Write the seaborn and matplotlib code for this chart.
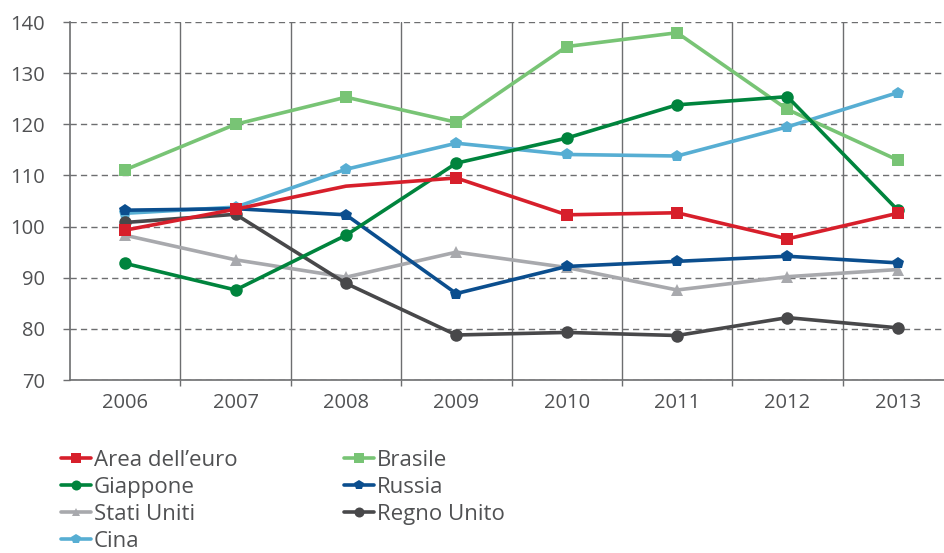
import matplotlib
matplotlib.use("Agg")
import matplotlib.pyplot as plt
import seaborn as sns
import pandas as pd
from matplotlib.ticker import MultipleLocator, FixedLocator

years = [2006, 2007, 2008, 2009, 2010, 2011, 2012, 2013]
area_euro = [99.3, 103.4, 107.9, 109.5, 102.3, 102.7, 97.6, 102.6]
brasile = [111.1, 120.0, 125.3, 120.4, 135.2, 137.9, 122.9, 113.0]
giappone = [92.8, 87.6, 98.3, 112.4, 117.3, 123.8, 125.4, 103.2]
russia = [103.2, 103.5, 102.3, 86.9, 92.2, 93.2, 94.2, 92.9]
stati_uniti = [98.3, 93.5, 90.1, 95.0, 92.0, 87.6, 90.2, 91.6]
regno_unito = [100.8, 102.4, 88.9, 78.8, 79.3, 78.7, 82.2, 80.2]
cina = [102.6, 103.8, 111.2, 116.3, 114.1, 113.8, 119.5, 126.2]

series = {
    "Area dell\u2019euro": area_euro,
    "Brasile": brasile,
    "Giappone": giappone,
    "Russia": russia,
    "Stati Uniti": stati_uniti,
    "Regno Unito": regno_unito,
    "Cina": cina,
}
colors = {
    "Area dell\u2019euro": "#d71f2b",
    "Brasile": "#78c475",
    "Giappone": "#00843d",
    "Russia": "#0b4e8e",
    "Stati Uniti": "#a8a9ad",
    "Regno Unito": "#48484a",
    "Cina": "#57aed3",
}
markers = {
    "Area dell\u2019euro": "s",
    "Brasile": "s",
    "Giappone": "o",
    "Russia": "p",
    "Stati Uniti": "^",
    "Regno Unito": "o",
    "Cina": "p",
}

sns.set_theme(style="white")
plt.rcParams["font.family"] = ["Open Sans", "DejaVu Sans"]

fig = plt.figure(figsize=(9.44, 5.53), dpi=100)
ax = fig.add_axes([70 / 944, 173 / 553, 883 / 944, 358 / 553])

draw_order = ["Cina", "Stati Uniti", "Regno Unito", "Russia", "Brasile", "Giappone", "Area dell\u2019euro"]
handles = {}
for z, name in enumerate(draw_order):
    df = pd.DataFrame({"anno": years, "valore": series[name]})
    kw = {}
    if name == "Area dell\u2019euro":
        kw["markevery"] = [0, 1, 3, 4, 5, 6, 7]
    sns.lineplot(data=df, x="anno", y="valore", ax=ax, color=colors[name],
                 marker=markers[name], markersize=9 if markers[name] != "^" else 8,
                 markeredgewidth=0, linewidth=2.6, zorder=3 + z, label=name, **kw)
    handles[name] = ax.lines[-1]

ax.set_xlim(2005.5, 2013.5)
ax.set_ylim(70, 140)
ax.yaxis.set_major_locator(MultipleLocator(10))
ax.xaxis.set_major_locator(FixedLocator(years))
ax.xaxis.set_minor_locator(FixedLocator([y + 0.5 for y in years[:-1]]))
ax.set_xlabel("")
ax.set_ylabel("")

ax.grid(False)
ax.yaxis.grid(True, which="major", color="#6d6e70", linestyle=(0, (4.5, 3)), linewidth=1.0)
ax.xaxis.grid(True, which="minor", color="#6d6e70", linestyle="-", linewidth=1.0)
for s in ["top", "right"]:
    ax.spines[s].set_visible(False)
for s in ["left", "bottom"]:
    ax.spines[s].set_color("#6d6e70")
    ax.spines[s].set_linewidth(1.2)

ax.tick_params(axis="y", which="major", left=True, length=5, width=1, color="#6d6e70",
               pad=13, labelsize=14.5, labelcolor="#505153")
ax.tick_params(axis="x", which="major", bottom=False, length=0, pad=9,
               labelsize=14.5, labelcolor="#505153")
ax.tick_params(axis="x", which="minor", bottom=True, length=4, width=1, color="#6d6e70")

ax.get_legend().remove()
legend_order = ["Area dell\u2019euro", "Giappone", "Stati Uniti", "Cina",
                "Brasile", "Russia", "Regno Unito"]
leg = fig.legend([handles[n] for n in legend_order], legend_order,
                 loc="upper left", bbox_to_anchor=(61 / 944, 1 - 450 / 553),
                 ncol=2, frameon=False, fontsize=16, handlelength=1.35,
                 handletextpad=0.12, columnspacing=4.8, labelspacing=0.27,
                 borderpad=0, borderaxespad=0, markerscale=0.8)
for t in leg.get_texts():
    t.set_color("#505153")

fig.savefig("out.png", dpi=100)
